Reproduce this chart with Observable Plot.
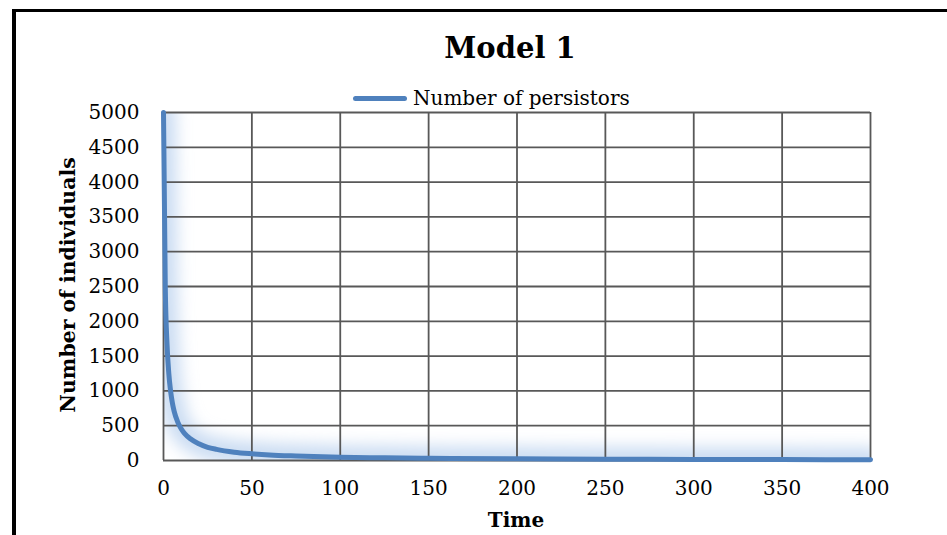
<!DOCTYPE html>
<html><head><meta charset="utf-8">
<script src="https://cdn.jsdelivr.net/npm/d3@7"></script>
<script src="https://cdn.jsdelivr.net/npm/@observablehq/plot@0.6"></script>
<style>
body{margin:0;background:#fff;}
#wrap{position:relative;width:947px;height:535px;overflow:hidden;font-family:"DejaVu Serif",serif;color:#000;}
#frame{position:absolute;left:12px;top:9px;width:1000px;height:600px;border-left:4px solid #000;border-top:3px solid #000;box-sizing:border-box;}
#chart{position:absolute;left:0;top:0;}
#title{position:absolute;left:0;width:1020px;top:34px;text-align:center;font-weight:bold;font-size:29px;line-height:1;}
#legend{position:absolute;left:353px;top:88px;display:flex;align-items:center;font-size:20px;line-height:1;white-space:nowrap;}
#legend .sw{width:54px;height:5px;border-radius:3px;background:#4f81bd;margin-right:6px;}
#ylab{position:absolute;left:68px;top:285px;transform:translate(-50%,-50%) rotate(-90deg);font-weight:bold;font-size:20.4px;white-space:nowrap;line-height:1;}
#xlab{position:absolute;left:516px;top:520px;transform:translate(-50%,-50%);font-weight:bold;font-size:20px;white-space:nowrap;line-height:1;}
</style></head>
<body>
<div id="wrap">
  <div id="frame"></div>
  <div id="chart"></div>
  <div id="title"></div>
  <div id="legend"><div class="sw"></div><span id="legtext"></span></div>
  <div id="ylab"></div>
  <div id="xlab"></div>
</div>
<script>
const titleText = "Model 1";
const seriesName = "Number of persistors";
const xLabel = "Time";
const yLabel = "Number of individuals";
const time = [0,1,2,3,4,5,6,8,10,12,15,20,25,30,40,50,60,75,100,125,150,200,250,300,350,400];
const persistors = [5000,2500,1670,1250,1000,830,710,555,455,385,315,240,190,160,120,97,80,65,48,38,32,24,19,16,13,11];
const xTicks = [0,50,100,150,200,250,300,350,400];
const yTicks = [0,500,1000,1500,2000,2500,3000,3500,4000,4500,5000];

const data = time.map((t,i)=>({t, v: persistors[i]}));

document.getElementById("title").textContent = titleText;
document.getElementById("legtext").textContent = seriesName;
document.getElementById("xlab").textContent = xLabel;
document.getElementById("ylab").textContent = yLabel;

const svg = Plot.plot({
  width: 947,
  height: 535,
  marginLeft: 163,
  marginRight: 77,
  marginTop: 112,
  marginBottom: 75,
  style: {fontFamily: "DejaVu Serif, serif", fontSize: "20px", color: "#000", background: "transparent", overflow: "visible"},
  x: {domain: [0,400], ticks: xTicks, tickSize: 0, tickPadding: 20, label: null, tickFormat: d => String(d)},
  y: {domain: [0,5000], ticks: yTicks, tickSize: 0, tickPadding: 24, label: null, tickFormat: d => String(d)},
  marks: [
    Plot.line(data, {x: "t", y: "v", stroke: "#b3cdec", strokeWidth: 24, strokeOpacity: 0.7, curve: "monotone-x", clip: true}),
    Plot.gridX(xTicks, {stroke: "#585858", strokeOpacity: 1, strokeWidth: 1.8}),
    Plot.gridY(yTicks, {stroke: "#585858", strokeOpacity: 1, strokeWidth: 1.8}),
    Plot.line(data, {x: "t", y: "v", stroke: "#4f81bd", strokeWidth: 5, curve: "monotone-x", strokeLinecap: "round"})
  ]
});
document.getElementById("chart").appendChild(svg);

// soft glow filter for the halo line
const s = d3.select(svg);
const defs = s.insert("defs", ":first-child");
defs.append("filter").attr("id","glow").attr("x","-20%").attr("y","-20%").attr("width","140%").attr("height","140%")
  .append("feGaussianBlur").attr("stdDeviation", 8);
const lines = s.selectAll('g[aria-label="line"]').nodes();
if (lines.length) {
  d3.select(lines[0]).selectAll("path").attr("filter","url(#glow)");
}
</script>
</body></html>
